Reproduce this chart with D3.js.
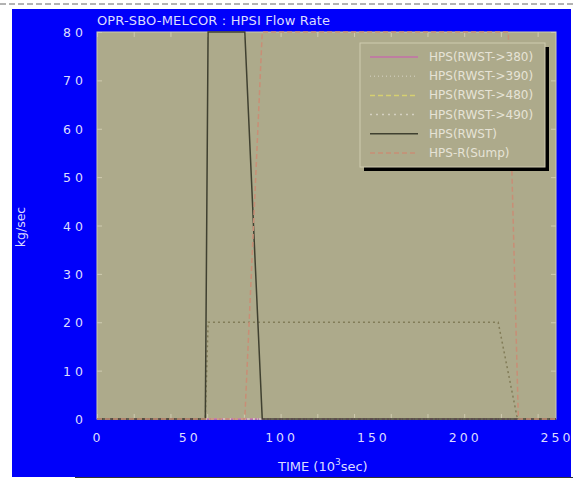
<!DOCTYPE html>
<html>
<head>
<meta charset="utf-8">
<script src="https://cdn.jsdelivr.net/npm/d3@7"></script>
<style>
  body { margin: 0; background: #fff; }
  text { font-family: "DejaVu Sans", sans-serif; }
</style>
</head>
<body>
<div id="wrapper"></div>
<script>
// DATA
const TITLE = `OPR-SBO-MELCOR : HPSI Flow Rate`;
const X_TICKS = [0, 50, 100, 150, 200, 250];
const Y_TICKS = [0, 10, 20, 30, 40, 50, 60, 70, 80];

const r380Time = [0, 250];
const r380Flow = [0, 0];
const r390Time = [0, 250];
const r390Flow = [0, 0];
const r480Time = [0, 59, 60.5, 218.5, 229, 250];
const r480Flow = [0, 0, 20, 20, 0, 0];
const r490Time = [0, 250];
const r490Flow = [0, 0];
const rwstTime = [0, 59, 60.5, 80.5, 90, 250];
const rwstFlow = [0, 0, 80, 80, 0, 0];
const sumpTime = [0, 80.5, 90, 224, 229.5, 250];
const sumpFlow = [0, 0, 80, 80, 0, 0];

const SERIES = [
  { name: `HPS(RWST->380)`, t: r380Time, v: r380Flow, color: `#c46fa8`, dash: null },
  { name: `HPS(RWST->390)`, t: r390Time, v: r390Flow, color: `#c9c6b2`, dash: `1,3` },
  { name: `HPS(RWST->480)`, t: r480Time, v: r480Flow, color: `#827c58`, dash: `2,3`, legendColor: `#d6d070`, legendDash: `5,3` },
  { name: `HPS(RWST->490)`, t: r490Time, v: r490Flow, color: `#d4d0c0`, dash: `2,4` },
  { name: `HPS(RWST)`, t: rwstTime, v: rwstFlow, color: `#3f4030`, dash: null },
  { name: `HPS-R(Sump)`, t: sumpTime, v: sumpFlow, color: `#c88e76`, dash: `5,3` }
];

// GRAPH
const W = 573, H = 478;
const plot = { left: 97, right: 556, top: 32, bottom: 419 };
const BLUE = `#0000fa`;
const PLOT_BG = `#adaa8b`;
const FRAME = `#cfcbb0`;
const LABEL = `#dcdcff`;

const svg = d3.select(`#wrapper`)
  .append(`svg`)
  .attr(`width`, W)
  .attr(`height`, H);

// scan edge dashes + panel
svg.append(`line`)
  .attr(`x1`, 0).attr(`x2`, W).attr(`y1`, 4).attr(`y2`, 4)
  .attr(`stroke`, `#666`).attr(`stroke-dasharray`, `6,3`);

svg.append(`rect`)
  .attr(`x`, 12).attr(`y`, 9)
  .attr(`width`, 559).attr(`height`, 468)
  .attr(`fill`, BLUE);

svg.append(`line`)
  .attr(`x1`, 75).attr(`x2`, W).attr(`y1`, 477.5).attr(`y2`, 477.5)
  .attr(`stroke`, `#333`);

// SCALES
const xScale = d3.scaleLinear().domain([0, 250]).range([plot.left, plot.right]);
const yScale = d3.scaleLinear().domain([0, 80]).range([plot.bottom, plot.top]);

svg.append(`rect`)
  .attr(`x`, plot.left).attr(`y`, plot.top)
  .attr(`width`, plot.right - plot.left).attr(`height`, plot.bottom - plot.top)
  .attr(`fill`, PLOT_BG)
  .attr(`stroke`, FRAME);

svg.append(`clipPath`).attr(`id`, `clip`)
  .append(`rect`)
  .attr(`x`, plot.left - 1).attr(`y`, plot.top - 1)
  .attr(`width`, plot.right - plot.left + 2).attr(`height`, plot.bottom - plot.top + 2);

// AXIS (inward ticks on all sides)
const tickLen = 5;
const customAxis = g => {
  g.select(`.domain`).remove();
  g.selectAll(`.tick text`).remove();
  g.selectAll(`.tick line`).attr(`stroke`, FRAME);
};

svg.append(`g`)
  .attr(`transform`, `translate(0, ${plot.bottom})`)
  .call(d3.axisTop(xScale).ticks(10).tickSize(tickLen))
  .call(customAxis);

svg.append(`g`)
  .attr(`transform`, `translate(0, ${plot.top})`)
  .call(d3.axisBottom(xScale).ticks(10).tickSize(tickLen))
  .call(customAxis);

svg.append(`g`)
  .attr(`transform`, `translate(${plot.left}, 0)`)
  .call(d3.axisRight(yScale).tickValues(Y_TICKS).tickSize(tickLen))
  .call(customAxis);

svg.append(`g`)
  .attr(`transform`, `translate(${plot.right}, 0)`)
  .call(d3.axisLeft(yScale).tickValues(Y_TICKS).tickSize(tickLen))
  .call(customAxis);

// tick labels
svg.append(`g`)
  .selectAll(`text`)
  .data(X_TICKS)
  .join(`text`)
  .attr(`x`, d => xScale(d) + 1)
  .attr(`y`, plot.bottom + 23)
  .attr(`text-anchor`, `middle`)
  .attr(`font-size`, 12.5)
  .attr(`letter-spacing`, 3)
  .attr(`fill`, LABEL)
  .text(d => d);

svg.append(`g`)
  .selectAll(`text`)
  .data(Y_TICKS)
  .join(`text`)
  .attr(`x`, 87)
  .attr(`y`, d => yScale(d) + 5)
  .attr(`text-anchor`, `end`)
  .attr(`font-size`, 12.5)
  .attr(`letter-spacing`, 4)
  .attr(`fill`, LABEL)
  .text(d => d);

// titles
svg.append(`text`)
  .attr(`x`, plot.left)
  .attr(`y`, 25)
  .attr(`font-size`, 13)
  .attr(`textLength`, 233)
  .attr(`fill`, LABEL)
  .text(TITLE);

svg.append(`text`)
  .attr(`transform`, `translate(25, 227) rotate(-90)`)
  .attr(`text-anchor`, `middle`)
  .attr(`font-size`, 12.5)
  .attr(`fill`, LABEL)
  .text(`kg/sec`);

const xLabel = svg.append(`text`)
  .attr(`x`, 278)
  .attr(`y`, 471)
  .attr(`font-size`, 13)
  .attr(`fill`, LABEL);
xLabel.append(`tspan`).text(`TIME  (10`);
xLabel.append(`tspan`).attr(`dy`, -6).attr(`font-size`, 9).text(`3`);
xLabel.append(`tspan`).attr(`dy`, 6).text(`sec)`);

// LINES
const line = d3.line()
  .x(d => xScale(d[0]))
  .y(d => yScale(d[1]));

svg.append(`g`)
  .attr(`clip-path`, `url(#clip)`)
  .selectAll(`path`)
  .data(SERIES)
  .join(`path`)
  .attr(`d`, d => line(d.t.map((t, i) => [t, d.v[i]])))
  .attr(`fill`, `none`)
  .attr(`stroke`, d => d.color)
  .attr(`stroke-width`, 1.5)
  .attr(`stroke-dasharray`, d => d.dash);

// LEGEND
const legend = { x: 360, y: 43, w: 185, h: 124, shadow: 4 };

svg.append(`rect`)
  .attr(`x`, legend.x + legend.shadow).attr(`y`, legend.y + legend.shadow)
  .attr(`width`, legend.w).attr(`height`, legend.h)
  .attr(`fill`, `#000`);

svg.append(`rect`)
  .attr(`x`, legend.x).attr(`y`, legend.y)
  .attr(`width`, legend.w).attr(`height`, legend.h)
  .attr(`fill`, PLOT_BG)
  .attr(`stroke`, FRAME);

const row = svg.append(`g`)
  .selectAll(`g`)
  .data(SERIES)
  .join(`g`)
  .attr(`transform`, (d, i) => `translate(${legend.x}, ${legend.y + 14 + i * 19.2})`);

row.append(`line`)
  .attr(`x1`, 10).attr(`x2`, 58)
  .attr(`stroke`, d => d.legendColor || d.color)
  .attr(`stroke-width`, 1.5)
  .attr(`stroke-dasharray`, d => d.legendDash || d.dash);

row.append(`text`)
  .attr(`x`, 69)
  .attr(`y`, 4)
  .attr(`font-size`, 12)
  .attr(`fill`, `#e6e3d6`)
  .text(d => d.name);
</script>
</body>
</html>
